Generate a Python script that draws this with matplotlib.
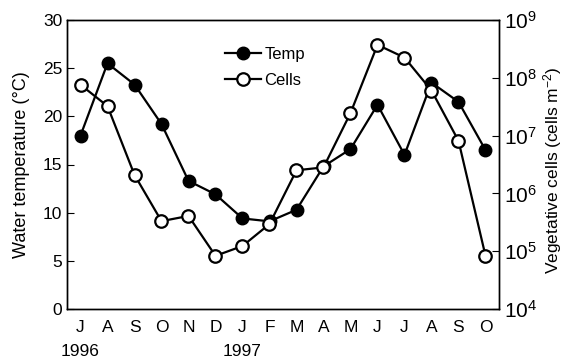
import matplotlib.pyplot as plt
import matplotlib.transforms as mtransforms
import numpy as np

plt.rcParams['font.family'] = ['Liberation Sans', 'DejaVu Sans']

months = ["J", "A", "S", "O", "N", "D", "J", "F", "M", "A", "M", "J", "J", "A", "S", "O"]
temp = [18.0, 25.5, 23.3, 19.2, 13.3, 11.9, 9.4, 9.1, 10.3, 14.8, 16.6, 21.2, 16.0, 23.5, 21.5, 16.5]
cells_log = [7.88, 7.51, 6.32, 5.52, 5.61, 4.92, 5.09, 5.47, 6.40, 6.45, 7.39, 8.57, 8.35, 7.78, 6.91, 4.92]
cells = [10 ** v for v in cells_log]

x = np.arange(len(months))

fig = plt.figure(figsize=(5.63, 3.61), dpi=100)
ax = fig.add_axes([67 / 563, 1 - 309 / 361, 432 / 563, 289 / 361])
ax2 = ax.twinx()

# temperature on left axis
l1, = ax.plot(x, temp, "-o", color="black", mfc="black", mec="black", ms=9, lw=1.6, label="Temp")
# cells on right axis (log)
l2, = ax2.plot(x, cells, "-o", color="black", mfc="white", mec="black", mew=1.6, ms=9, lw=1.6, label="Cells")

ax.set_xlim(-0.5, len(months) - 0.5)
ax.set_ylim(0, 30)
ax.set_yticks([0, 5, 10, 15, 20, 25, 30])
ax.set_xticks(x)
ax.set_xticklabels(months)
ax.set_xticks(np.arange(0.5, len(months) - 1, 1), minor=True)
ax.tick_params(axis="x", which="major", length=0, labelsize=12.5, pad=8)
ax.tick_params(axis="x", which="minor", direction="in", length=5)
ax.tick_params(axis="y", direction="in", length=5, labelsize=12.5)
ax.set_ylabel("Water temperature (\u00b0C)", fontsize=13)
ax.yaxis.set_label_coords(-0.086, 0.5)

ax2.set_yscale("log")
ax2.set_ylim(1e4, 1e9)
ax2.set_yticks([1e4, 1e5, 1e6, 1e7, 1e8, 1e9])
ax2.set_yticklabels([r"$\mathregular{10^{%d}}$" % k for k in range(4, 10)])
ax2.minorticks_off()
ax2.tick_params(axis="y", direction="in", length=5, labelsize=15)
ax2.set_ylabel(r"Vegetative cells (cells m$\mathregular{^{-2}}$)", fontsize=12.5)
ax2.yaxis.set_label_coords(1.097, 0.48)

for a in (ax, ax2):
    for s in a.spines.values():
        s.set_linewidth(1.0)

leg = ax.legend([l1, l2], ["Temp", "Cells"], loc="upper left", bbox_to_anchor=(0.33, 0.96),
                frameon=False, fontsize=12, handlelength=2.2, handletextpad=0.2, labelspacing=0.7)

trans = mtransforms.blended_transform_factory(ax.transData, fig.transFigure)
ax.text(0, 1 - 351 / 361, "1996", transform=trans, ha="center", va="center", fontsize=12.5)
ax.text(6, 1 - 351 / 361, "1997", transform=trans, ha="center", va="center", fontsize=12.5)

fig.savefig("out.png", dpi=100)
